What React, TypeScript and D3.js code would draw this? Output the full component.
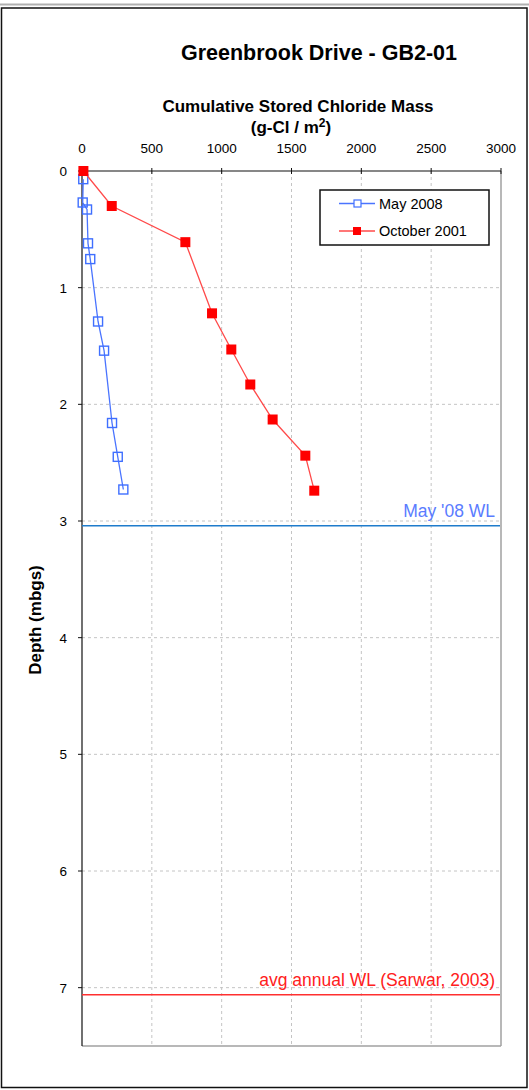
import React from "react";
import * as d3 from "d3";

const depthMay2008 = [0.07, 0.27, 0.33, 0.62, 0.755, 1.29, 1.54, 2.16, 2.45, 2.73];
const massMay2008 = [9, 5, 36, 43, 59, 115, 158, 215, 256, 296];
const depthOct2001 = [0, 0.3, 0.61, 1.22, 1.53, 1.83, 2.13, 2.44, 2.74];
const massOct2001 = [10, 213, 740, 931, 1069, 1205, 1365, 1599, 1663];
const xTicks = [0, 500, 1000, 1500, 2000, 2500, 3000];
const yTicks = [0, 1, 2, 3, 4, 5, 6, 7];
const waterLevels = [
  { depth: 3.04, label: "May '08 WL", line: "#1f7ccc", text: "#5a7cff" },
  { depth: 7.06, label: "avg annual WL (Sarwar,  2003)", line: "#ff3030", text: "#ff2020" },
];

const W = 529;
const H = 1090;
const L = 82, R = 501, T = 171, B = 1046;

export default function App() {
  const x = d3.scaleLinear().domain([0, 3000]).range([L, R]);
  const y = d3.scaleLinear().domain([0, 7.5]).range([T, B]);
  const may = depthMay2008.map((d, i) => [massMay2008[i], d] as [number, number]);
  const oct = depthOct2001.map((d, i) => [massOct2001[i], d] as [number, number]);
  const line = d3.line<[number, number]>().x((d) => x(d[0])).y((d) => y(d[1]));
  const font = "Arial, 'Liberation Sans', sans-serif";
  return (
    <svg width={W} height={H} style={{ position: "absolute", left: 0, top: 0, fontFamily: font }}>
      <rect x={0} y={0} width={W} height={H} fill="#fff" />
      <line x1={0} x2={W} y1={4.5} y2={4.5} stroke="#b0b0b0" strokeWidth={2} />
      <rect x={1.5} y={8} width={525.5} height={1079.5} fill="none" stroke="#111" strokeWidth={1.5} />
      <text x={319} y={60} textAnchor="middle" fontSize={21.5} fontWeight="bold">Greenbrook Drive - GB2-01</text>
      <text x={298} y={112} textAnchor="middle" fontSize={17} fontWeight="bold">Cumulative Stored Chloride Mass</text>
      <text x={291} y={133} textAnchor="middle" fontSize={17} fontWeight="bold">
        (g-Cl / m<tspan dy={-6} fontSize={12}>2</tspan><tspan dy={6}>)</tspan>
      </text>
      {/* grid */}
      {xTicks.slice(1, -1).map((t) => (
        <line key={"gx" + t} x1={x(t)} x2={x(t)} y1={T} y2={B} stroke="#c4c4c4" strokeDasharray="3,3" />
      ))}
      {yTicks.slice(1).map((t) => (
        <line key={"gy" + t} x1={L} x2={R} y1={y(t)} y2={y(t)} stroke="#c4c4c4" strokeDasharray="3,3" />
      ))}
      {/* frame */}
      <line x1={R} x2={R} y1={T} y2={B} stroke="#a0a0a0" strokeWidth={1.5} />
      <line x1={L} x2={R} y1={B} y2={B} stroke="#a0a0a0" strokeWidth={1.5} />
      <line x1={L} x2={R} y1={T} y2={T} stroke="#111" strokeWidth={1.2} />
      <line x1={L} x2={L} y1={T} y2={B} stroke="#111" strokeWidth={1.2} />
      {xTicks.map((t) => (
        <g key={"xt" + t}>
          <line x1={x(t)} x2={x(t)} y1={T - 3} y2={T + 3} stroke="#111" />
          <text x={x(t)} y={153} textAnchor="middle" fontSize={13.5}>{t}</text>
        </g>
      ))}
      {yTicks.map((t) => (
        <g key={"yt" + t}>
          <line x1={L - 4} x2={L} y1={y(t)} y2={y(t)} stroke="#111" />
          <text x={67} y={y(t) + 5} textAnchor="end" fontSize={13.5}>{t}</text>
        </g>
      ))}
      <text transform={`translate(41,620) rotate(-90)`} textAnchor="middle" fontSize={17} fontWeight="bold">Depth (mbgs)</text>
      {/* water levels */}
      {waterLevels.map((w) => (
        <g key={w.label}>
          <line x1={L} x2={R - 1} y1={y(w.depth)} y2={y(w.depth)} stroke={w.line} strokeWidth={1.5} />
          <text x={R - 6} y={y(w.depth) - 9} textAnchor="end" fontSize={17.5} fill={w.text}>{w.label}</text>
        </g>
      ))}
      {/* series */}
      <path d={line(may) || ""} fill="none" stroke="#4a74ff" strokeWidth={1.3} />
      {may.map((d, i) => (
        <rect key={"m" + i} x={x(d[0]) - 4.5} y={y(d[1]) - 4.5} width={9} height={9} fill="#fff" fillOpacity={0} stroke="#3f6fff" strokeWidth={1.4} />
      ))}
      <path d={line(oct) || ""} fill="none" stroke="#ff4a4a" strokeWidth={1.3} />
      {oct.map((d, i) => (
        <rect key={"o" + i} x={x(d[0]) - 5} y={y(d[1]) - 5} width={10} height={10} fill="#ff0000" />
      ))}
      {/* legend */}
      <rect x={320} y={190} width={169} height={55} fill="#fff" stroke="#111" strokeWidth={1.5} />
      <line x1={339} x2={375} y1={203.5} y2={203.5} stroke="#4a74ff" strokeWidth={1.3} />
      <rect x={354} y={200} width={7} height={7} fill="#fff" stroke="#3f6fff" strokeWidth={1.2} />
      <text x={379} y={208.5} fontSize={14.5}>May 2008</text>
      <line x1={339} x2={375} y1={231} y2={231} stroke="#ff4a4a" strokeWidth={1.3} />
      <rect x={353} y={227} width={8} height={8} fill="#ff0000" />
      <text x={379} y={236} fontSize={14.5}>October 2001</text>
    </svg>
  );
}
